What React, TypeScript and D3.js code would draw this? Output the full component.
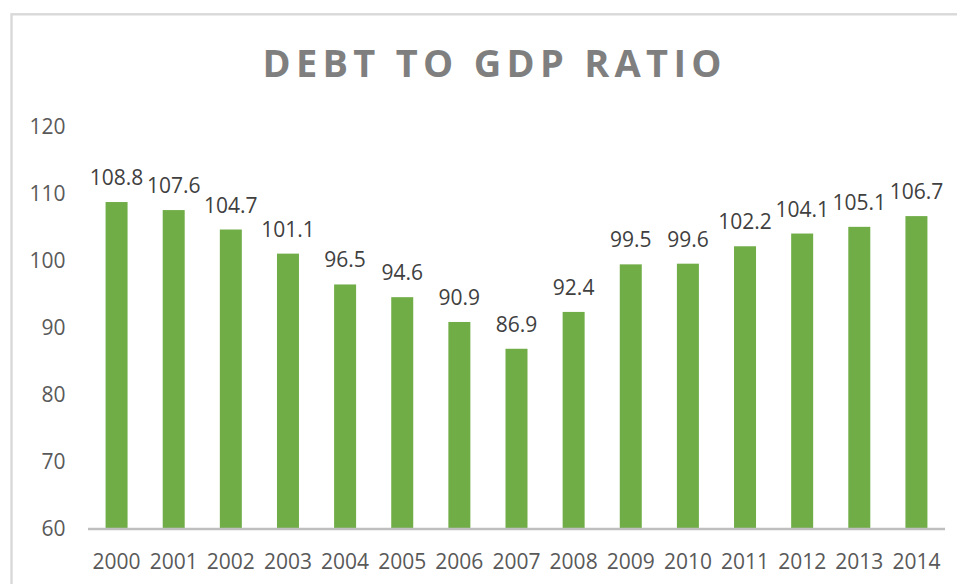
import React from "react";
import * as d3 from "d3";

const years = ["2000","2001","2002","2003","2004","2005","2006","2007","2008","2009","2010","2011","2012","2013","2014"];
const ratios = [108.8,107.6,104.7,101.1,96.5,94.6,90.9,86.9,92.4,99.5,99.6,102.2,104.1,105.1,106.7];
const yTicks = [60,70,80,90,100,110,120];
const title = "DEBT TO GDP RATIO";

const W = 957, H = 584;
const FONT = "'Open Sans', 'Liberation Sans', sans-serif";

export default function App() {
  const x = d3.scaleBand<string>().domain(years).range([88, 945]).paddingInner(0.615).paddingOuter(0.3075);
  const y = d3.scaleLinear().domain([60, 120]).range([529, 127]);
  return (
    <svg width={W} height={H} style={{ position: "absolute", left: 0, top: 0, background: "#fff" }} fontFamily={FONT}>
      <rect x={0} y={0} width={W} height={H} fill="#fff" />
      <rect x={11.5} y={14.3} width={980} height={620} fill="none" stroke="#D9D9D9" strokeWidth={2.4} />
      <text x={262.5} y={77} fontFamily="'Open Sans', sans-serif" fontSize={38} fontWeight={700} fill="#7F7F7F" textLength={459} lengthAdjust="spacing" transform="translate(0 77) scale(1 0.97) translate(0 -77)">{title}</text>
      {yTicks.map(t => (
        <text key={t} x={65.5} y={y(t)} dy="0.35em" textAnchor="end" fontSize={21} fill="#595959">{t}</text>
      ))}
      {years.map((yr, i) => (
        <g key={yr}>
          <rect x={x(yr)!} y={y(ratios[i])} width={x.bandwidth()} height={y(60) - y(ratios[i])} fill="#70AD47" />
          <text x={x(yr)! + x.bandwidth() / 2} y={y(ratios[i]) - 17} textAnchor="middle" fontSize={21} fill="#404040">{ratios[i].toFixed(1)}</text>
          <text x={x(yr)! + x.bandwidth() / 2} y={569} textAnchor="middle" fontSize={21} fill="#595959">{yr}</text>
        </g>
      ))}
      <line x1={88} x2={945} y1={y(60)} y2={y(60)} stroke="#BFBFBF" strokeWidth={2.5} />
    </svg>
  );
}
